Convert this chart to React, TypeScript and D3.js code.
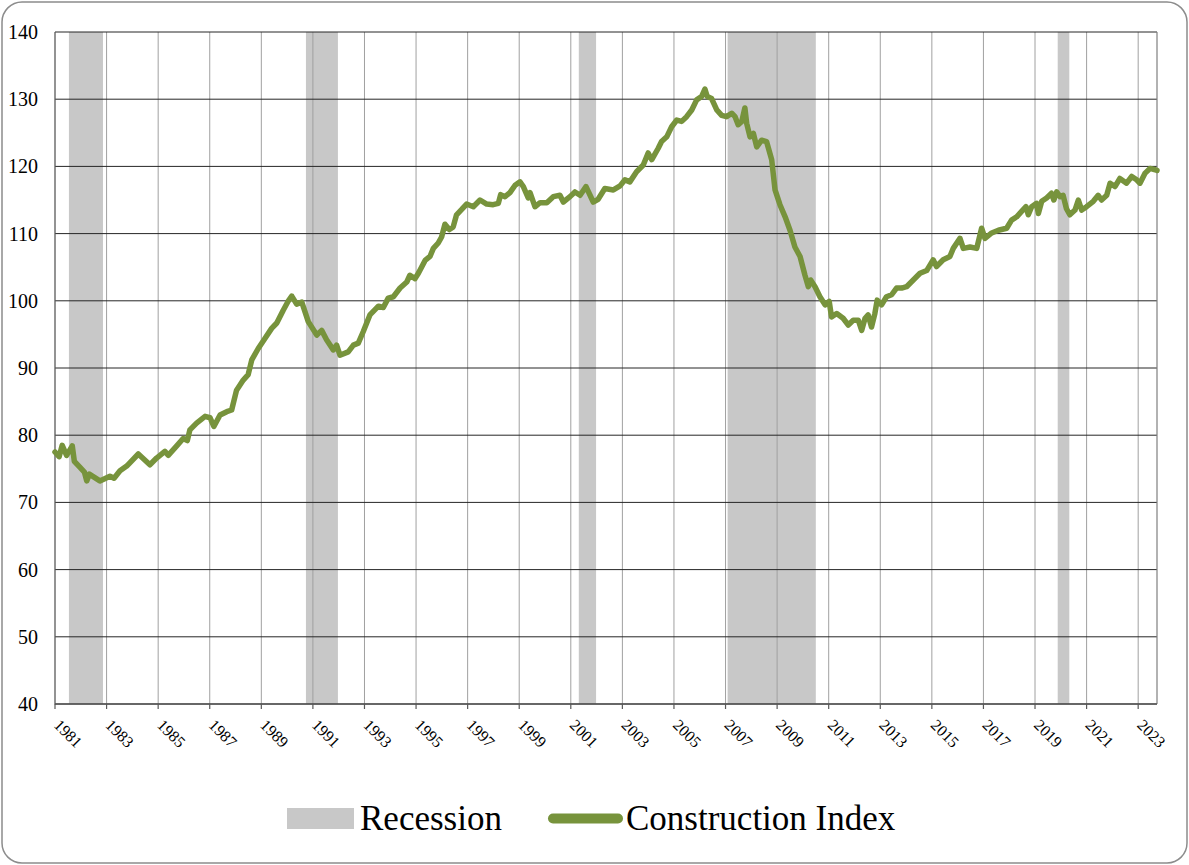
import React from "react";
import * as d3 from "d3";

const dates: number[] = [
  1981.0, 1981.16, 1981.28, 1981.45, 1981.67, 1981.75, 1981.97, 1982.14, 1982.23, 1982.33,
  1982.74, 1983.13, 1983.29, 1983.52, 1983.78, 1984.23, 1984.68, 1984.94, 1985.26, 1985.39,
  1985.72, 1985.97, 1986.13, 1986.23, 1986.49, 1986.82, 1987.01, 1987.16, 1987.4, 1987.66,
  1987.85, 1988.04, 1988.3, 1988.49, 1988.63, 1988.88, 1989.14, 1989.4, 1989.6, 1989.85,
  1990.05, 1990.18, 1990.37, 1990.57, 1990.82, 1991.15, 1991.34, 1991.53, 1991.79, 1991.92,
  1992.05, 1992.37, 1992.57, 1992.76, 1992.95, 1993.21, 1993.54, 1993.73, 1993.92, 1994.12,
  1994.38, 1994.64, 1994.76, 1994.96, 1995.09, 1995.35, 1995.54, 1995.67, 1995.86, 1995.99,
  1996.12, 1996.29, 1996.44, 1996.57, 1996.77, 1996.96, 1997.22, 1997.48, 1997.74, 1997.99,
  1998.19, 1998.28, 1998.45, 1998.64, 1998.84, 1999.03, 1999.16, 1999.35, 1999.42, 1999.61,
  1999.81, 2000.07, 2000.32, 2000.58, 2000.71, 2000.97, 2001.16, 2001.36, 2001.59, 2001.87,
  2002.06, 2002.32, 2002.65, 2002.91, 2003.1, 2003.29, 2003.55, 2003.81, 2004.0, 2004.14,
  2004.39, 2004.52, 2004.72, 2004.91, 2005.11, 2005.3, 2005.49, 2005.69, 2005.88, 2006.07,
  2006.2, 2006.29, 2006.46, 2006.66, 2006.85, 2007.04, 2007.24, 2007.37, 2007.49, 2007.63,
  2007.75, 2007.82, 2007.95, 2008.08, 2008.21, 2008.4, 2008.59, 2008.79, 2008.92, 2009.11,
  2009.31, 2009.5, 2009.69, 2009.89, 2010.08, 2010.21, 2010.3, 2010.47, 2010.66, 2010.86,
  2011.02, 2011.11, 2011.31, 2011.56, 2011.76, 2011.95, 2012.15, 2012.28, 2012.41, 2012.53,
  2012.66, 2012.79, 2012.88, 2013.05, 2013.24, 2013.44, 2013.63, 2013.83, 2014.02, 2014.28,
  2014.54, 2014.8, 2015.05, 2015.18, 2015.44, 2015.7, 2015.83, 2016.09, 2016.22, 2016.48,
  2016.74, 2016.93, 2017.06, 2017.32, 2017.58, 2017.9, 2018.09, 2018.29, 2018.48, 2018.65,
  2018.74, 2018.87, 2019.06, 2019.13, 2019.26, 2019.45, 2019.64, 2019.73, 2019.84, 2019.97,
  2020.09, 2020.22, 2020.35, 2020.55, 2020.68, 2020.81, 2021.0, 2021.26, 2021.45, 2021.58,
  2021.78, 2021.91, 2022.1, 2022.29, 2022.55, 2022.75, 2022.94, 2023.07, 2023.27, 2023.46,
  2023.66, 2023.73,
];

const values: number[] = [
  77.5, 76.8, 78.5, 77.0, 78.4, 76.1, 75.2, 74.5, 73.2, 74.2,
  73.2, 73.9, 73.6, 74.7, 75.4, 77.2, 75.6, 76.6, 77.6, 77.0,
  78.4, 79.5, 79.2, 80.8, 81.8, 82.8, 82.6, 81.3, 83.0, 83.5,
  83.75, 86.7, 88.2, 89.0, 91.2, 92.9, 94.4, 95.9, 96.7, 98.6,
  100.0, 100.7, 99.5, 99.8, 96.9, 94.9, 95.6, 94.2, 92.7, 93.4,
  91.9, 92.4, 93.4, 93.7, 95.4, 97.9, 99.2, 99.0, 100.4, 100.6,
  101.9, 102.8, 103.8, 103.3, 104.1, 106.0, 106.6, 107.8, 108.6, 109.5,
  111.4, 110.6, 111.0, 112.8, 113.6, 114.4, 114.0, 115.0, 114.4, 114.3,
  114.5, 115.8, 115.5, 116.1, 117.2, 117.7, 117.0, 115.3, 116.1, 114.0,
  114.6, 114.6, 115.5, 115.7, 114.7, 115.5, 116.2, 115.7, 117.0, 114.7,
  115.1, 116.7, 116.5, 117.1, 118.0, 117.7, 119.2, 120.2, 122.0, 121.0,
  122.7, 123.7, 124.4, 125.9, 126.9, 126.7, 127.4, 128.4, 129.9, 130.4,
  131.5, 130.4, 130.1, 128.4, 127.6, 127.4, 127.9, 127.4, 126.2, 126.7,
  128.7, 126.4, 124.4, 124.9, 122.9, 123.9, 123.7, 121.0, 116.5, 114.3,
  112.5, 110.5, 108.0, 106.6, 103.8, 102.1, 103.1, 102.1, 100.6, 99.4,
  99.9, 97.6, 98.1, 97.4, 96.4, 97.1, 97.1, 95.6, 97.4, 97.9,
  96.1, 98.1, 100.1, 99.4, 100.6, 100.9, 101.9, 101.9, 102.1, 103.1,
  104.1, 104.5, 106.1, 105.1, 106.1, 106.6, 107.8, 109.3, 107.8, 108.0,
  107.8, 110.8, 109.3, 110.1, 110.5, 110.8, 112.0, 112.5, 113.3, 114.0,
  112.8, 114.0, 114.5, 113.0, 114.8, 115.3, 116.0, 115.0, 116.2, 115.5,
  115.7, 113.7, 112.8, 113.5, 115.0, 113.5, 114.0, 114.8, 115.7, 115.0,
  115.7, 117.5, 117.0, 118.2, 117.5, 118.5, 118.0, 117.5, 119.0, 119.7,
  119.5, 119.4,
];

const recessionStart: number[] = [1981.54, 1990.73, 2001.31, 2007.08, 2019.88];
const recessionEnd: number[] = [1982.86, 1991.97, 2001.98, 2010.5, 2020.33];

const yTicks: number[] = [40, 50, 60, 70, 80, 90, 100, 110, 120, 130, 140];
const xTickYears: number[] = [
  1981, 1983, 1985, 1987, 1989, 1991, 1993, 1995, 1997, 1999, 2001,
  2003, 2005, 2007, 2009, 2011, 2013, 2015, 2017, 2019, 2021, 2023,
];

const W = 1189;
const H = 865;
const L = 55;
const R = 1157;
const T = 32;
const B = 704;
const FONT = "'Liberation Serif', 'Times New Roman', Times, serif";
const GREEN = "#77933C";

export default function App() {
  const x = d3.scaleLinear().domain([1981, 2023.73]).range([L, R]);
  const y = d3.scaleLinear().domain([40, 140]).range([B, T]);
  const pts = dates.map((d, i) => [d, values[i]] as [number, number]);
  const line = d3
    .line<[number, number]>()
    .x((d) => x(d[0]))
    .y((d) => y(d[1]))
    .curve(d3.curveLinear);

  return (
    <svg
      width={W}
      height={H}
      style={{ position: "absolute", left: 0, top: 0, background: "#fff" }}
      fontFamily={FONT}
    >
      <rect x={2} y={2} width={W - 4} height={H - 4} rx={20} ry={20} fill="#fff" stroke="#8c8c8c" strokeWidth={1.5} />

      {recessionStart.map((s, i) => (
        <rect key={"r" + i} x={x(s)} y={T} width={x(recessionEnd[i]) - x(s)} height={B - T} fill="#C8C8C8" />
      ))}

      {xTickYears.slice(1).map((yr) => (
        <line key={"vg" + yr} x1={x(yr)} x2={x(yr)} y1={T} y2={B} stroke="#A0A0A0" strokeWidth={1} />
      ))}
      {yTicks.map((v) => (
        <line key={"hg" + v} x1={L} x2={R} y1={y(v)} y2={y(v)} stroke="#262626" strokeWidth={1} />
      ))}
      <line x1={R} x2={R} y1={T} y2={B} stroke="#7f7f7f" strokeWidth={1.2} />
      <line x1={L} x2={L} y1={T} y2={B + 0.5} stroke="#595959" strokeWidth={1.3} />
      <line x1={L} x2={R} y1={B} y2={B} stroke="#595959" strokeWidth={1.3} />

      {xTickYears.map((yr) => (
        <line key={"xt" + yr} x1={x(yr)} x2={x(yr)} y1={B} y2={B + 5} stroke="#595959" strokeWidth={1.2} />
      ))}

      <path d={line(pts) || ""} fill="none" stroke={GREEN} strokeWidth={5.5} strokeLinejoin="round" strokeLinecap="round" />

      {yTicks.map((v) => (
        <text key={"yl" + v} x={38} y={y(v)} textAnchor="end" dominantBaseline="central" fontSize={20} fontFamily={FONT} fill="#000">
          {v}
        </text>
      ))}
      {xTickYears.map((yr) => (
        <text
          key={"xl" + yr}
          transform={`translate(${x(yr) - 2},${B + 22}) rotate(45)`}
          fontSize={16}
          fontFamily={FONT}
          fill="#000"
        >
          {yr}
        </text>
      ))}

      <rect x={287} y={808} width={67} height={21} fill="#C8C8C8" />
      <text x={360} y={830} fontSize={35} fontFamily={FONT} fill="#000">Recession</text>
      <line x1={553} x2={618} y1={818.5} y2={818.5} stroke={GREEN} strokeWidth={10} strokeLinecap="round" />
      <text x={626} y={830} fontSize={35} fontFamily={FONT} fill="#000">Construction Index</text>
    </svg>
  );
}
